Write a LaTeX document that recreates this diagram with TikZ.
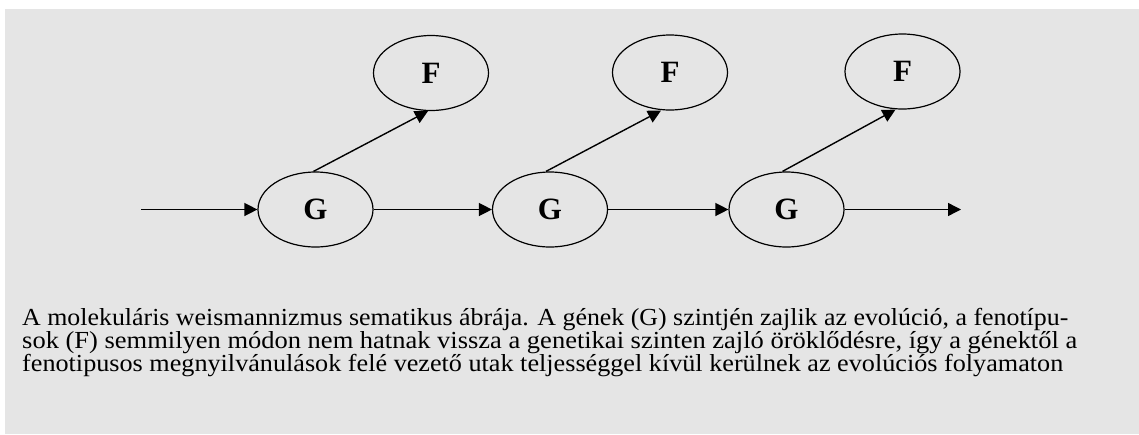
\documentclass[tikz,border=0pt]{standalone}
\usepackage{fontspec}
\setmainfont{Liberation Serif}
\usetikzlibrary{shapes.geometric,arrows.meta}
\definecolor{paper}{RGB}{229,229,229}
\begin{document}
\begin{tikzpicture}[x=1pt,y=-1pt,
 ell/.style={ellipse,draw,line width=1.2pt,inner sep=0pt,minimum width=115pt,minimum height=75pt,font=\fontsize{31}{31}\selectfont\bfseries},
 arr/.style={line width=1.4pt,-{Triangle[length=13pt,width=13pt]}},
 captionline/.style={anchor=base west,inner sep=0pt,font=\fontsize{24.5}{24.5}\selectfont}]
\useasboundingbox (0,0) rectangle (1139,434);
\fill[white] (0,0) rectangle (1139,434);
\fill[paper] (5,9) rectangle (1139,434);
\node[ell] (G1) at (315.5,209.5) {G};
\node[ell] (G2) at (550,209.5) {G};
\node[ell] (G3) at (786.5,209.5) {G};
\node[ell] (F1) at (431,73) {F};
\node[ell] (F2) at (670,72.5) {F};
\node[ell] (F3) at (902.5,71.5) {F};
\coordinate (in) at (141,209.5);
\coordinate (out) at (961,209.5);
\draw[arr] (in) -- (G1.west);
\draw[arr] (G1.east) -- (G2.west);
\draw[arr] (G2.east) -- (G3.west);
\draw[arr] (G3.east) -- (out);
\draw[arr] ([xshift=-2pt]G1.north) -- ([xshift=-3pt]F1.south);
\draw[arr] ([xshift=-4pt]G2.north) -- ([xshift=-9pt]F2.south);
\draw[arr] ([xshift=-4pt]G3.north) -- ([xshift=-7pt]F3.south);
\node[captionline] (l1) at (22,325.5) {\resizebox{1046pt}{\height}{A molekuláris weismannizmus sematikus ábrája. A gének (G) szintjén zajlik az evolúció, a fenotípu-}};
\node[captionline] (l2) at (22,348.5) {\resizebox{1055pt}{\height}{sok (F) semmilyen módon nem hatnak vissza a genetikai szinten zajló öröklődésre, így a génektől a}};
\node[captionline] (l3) at (22,371.5) {\resizebox{1041pt}{\height}{fenotipusos megnyilvánulások felé vezető utak teljességgel kívül kerülnek az evolúciós folyamaton}};
\end{tikzpicture}
\end{document}
